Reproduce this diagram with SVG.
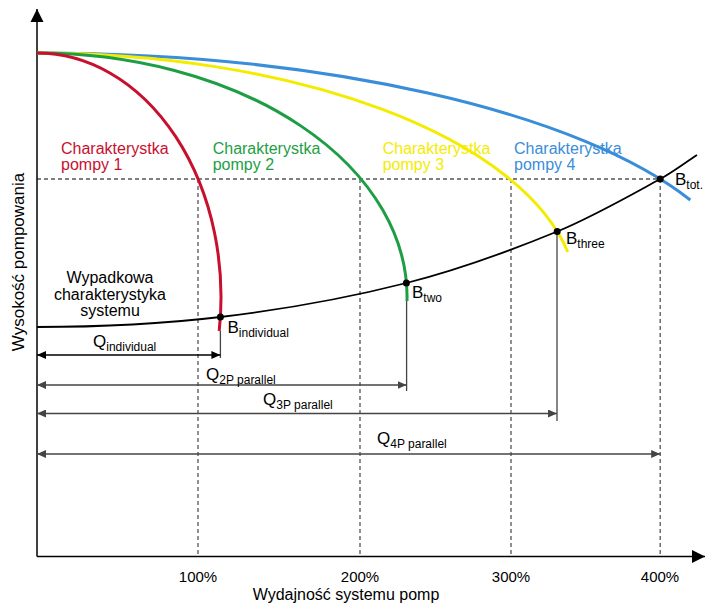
<svg xmlns="http://www.w3.org/2000/svg" width="705" height="609" viewBox="0 0 705 609">
  <defs>
    <marker id="arrow" markerUnits="userSpaceOnUse" markerWidth="10" markerHeight="8" refX="9" refY="4" orient="auto-start-reverse">
      <path d="M0,0 L9,4 L0,8 Z" fill="context-stroke"/>
    </marker>
    <marker id="axisArrow" markerUnits="userSpaceOnUse" markerWidth="14" markerHeight="14" refX="13" refY="7" orient="auto">
      <path d="M0,0.5 L13,7 L0,13.5 Z" fill="#000"/>
    </marker>
  </defs>
  <style>
    text { font-family: "Liberation Sans", Arial, sans-serif; }
    .axis { stroke: #000; stroke-width: 1.5; fill: none; }
    .grid { stroke: #000; stroke-width: 1.2; stroke-dasharray: 4 3; fill: none; }
    .vgrid { stroke: #555; stroke-width: 1.3; stroke-dasharray: 4 3; fill: none; }
    .pump { fill: none; stroke-width: 3; stroke-linecap: butt; }
    .sys { fill: none; stroke: #000; stroke-width: 1.8; }
    .drop { stroke: #444; stroke-width: 1.3; fill: none; }
    .dim { stroke: #444; stroke-width: 1.5; fill: none; marker-start: url(#arrow); marker-end: url(#arrow); }
    .lbl { font-size: 16px; }
    .pt { font-size: 17px; fill: #000; }
    .sub { font-size: 12px; }
    .tick { font-size: 15px; fill: #000; text-anchor: middle; }
    .red { stroke: #C8102E; }
    .green { stroke: #1E9E44; }
    .yellow { stroke: #F4EC00; }
    .blue { stroke: #3A8DD8; }
  </style>

  <!-- axes -->
  <g id="axes">
    <line class="axis" x1="37" y1="556.5" x2="37" y2="9" marker-end="url(#axisArrow)"/>
    <line class="axis" x1="37" y1="556.5" x2="705" y2="556.5" marker-end="url(#axisArrow)"/>
    <text class="lbl" x="346" y="600" text-anchor="middle" fill="#000">Wydajność systemu pomp</text>
    <text class="lbl" transform="translate(24,262) rotate(-90)" text-anchor="middle" fill="#000" style="font-size:17px">Wysokość pompowania</text>
    <text class="tick" x="198" y="582">100%</text>
    <text class="tick" x="360" y="582">200%</text>
    <text class="tick" x="511" y="582">300%</text>
    <text class="tick" x="660" y="582">400%</text>
  </g>

  <!-- reference lines -->
  <g id="guides">
    <line class="grid" x1="37" y1="179" x2="660" y2="179"/>
    <line class="vgrid" x1="198" y1="179" x2="198" y2="556"/>
    <line class="vgrid" x1="360" y1="179" x2="360" y2="556"/>
    <line class="vgrid" x1="511" y1="179" x2="511" y2="556"/>
    <line class="vgrid" x1="660.2" y1="179" x2="660.2" y2="556"/>
  </g>

  <!-- pump curves -->
  <g id="pump4">
    <path class="pump blue" d="M37,53 A712,244 0 0,1 690.3,200"/>
    <text class="lbl" x="514" y="154" fill="#3A8DD8">Charakterystka</text>
    <text class="lbl" x="514" y="170" fill="#3A8DD8">pompy 4</text>
  </g>
  <g id="pump3">
    <path class="pump yellow" d="M37,53 A540,244 0 0,1 567.8,252"/>
    <text class="lbl" x="382.7" y="154" fill="#F4EC00">Charakterystka</text>
    <text class="lbl" x="382.7" y="170" fill="#F4EC00">pompy 3</text>
  </g>
  <g id="pump2">
    <path class="pump green" d="M37,53 A370,244 0 0,1 407,301"/>
    <text class="lbl" x="212.7" y="154" fill="#1E9E44">Charakterystka</text>
    <text class="lbl" x="212.7" y="170" fill="#1E9E44">pompy 2</text>
  </g>
  <g id="pump1">
    <path class="pump red" d="M37,53 A184,244 0 0,1 219.2,331"/>
    <text class="lbl" x="61" y="154" fill="#C8102E">Charakterystka</text>
    <text class="lbl" x="61" y="170" fill="#C8102E">pompy 1</text>
  </g>

  <!-- system curve -->
  <g id="system">
    <path class="sys" d="M37,327 C98.13,327 159.27,324.28 220.4,317 C282.4,309.62 344.4,298.74 406.4,283 C456.67,270.24 506.93,252.1 557.2,231.5 C591.53,217.43 625.87,197.79 660.2,179 C672.47,172.29 684.73,162.97 697,155"/>
    <text class="lbl" x="110" y="283" text-anchor="middle" fill="#000">Wypadkowa</text>
    <text class="lbl" x="110" y="299.5" text-anchor="middle" fill="#000">charakterystyka</text>
    <text class="lbl" x="110" y="316" text-anchor="middle" fill="#000">systemu</text>
  </g>

  <!-- connectors: drop lines and flow dimensions -->
  <g id="connectors">
    <line class="drop" x1="220.4" y1="331" x2="220.4" y2="358"/>
    <line class="drop" x1="406.6" y1="301" x2="406.6" y2="391"/>
    <line class="drop" x1="557" y1="231.5" x2="557" y2="421"/>
    <line class="dim" x1="37" y1="355" x2="220.4" y2="355" style="stroke:#000"/>
    <line class="dim" x1="37" y1="385" x2="406.6" y2="385"/>
    <line class="dim" x1="37" y1="413.5" x2="557" y2="413.5"/>
    <line class="dim" x1="37" y1="454" x2="660.2" y2="454"/>
  </g>

  <!-- operating points -->
  <g id="B_individual">
    <circle cx="220.4" cy="317" r="3.5" fill="#000"/>
    <text class="pt" x="227.5" y="333">B<tspan class="sub" dy="4">individual</tspan></text>
  </g>
  <g id="B_two">
    <circle cx="406.4" cy="283" r="3.5" fill="#000"/>
    <text class="pt" x="412" y="298">B<tspan class="sub" dy="4">two</tspan></text>
  </g>
  <g id="B_three">
    <circle cx="557.2" cy="231.5" r="3.5" fill="#000"/>
    <text class="pt" x="566" y="243.5">B<tspan class="sub" dy="4">three</tspan></text>
  </g>
  <g id="B_tot">
    <circle cx="660.2" cy="179" r="3.5" fill="#000"/>
    <text class="pt" x="675" y="185">B<tspan class="sub" dy="4">tot.</tspan></text>
  </g>

  <!-- flow labels -->
  <g id="Q_individual">
    <text class="pt" x="93" y="346.5">Q<tspan class="sub" dy="4">individual</tspan></text>
  </g>
  <g id="Q_2P">
    <text class="pt" x="206" y="380">Q<tspan class="sub" dy="4">2P parallel</tspan></text>
  </g>
  <g id="Q_3P">
    <text class="pt" x="263" y="405">Q<tspan class="sub" dy="4">3P parallel</tspan></text>
  </g>
  <g id="Q_4P">
    <text class="pt" x="377" y="444">Q<tspan class="sub" dy="4">4P parallel</tspan></text>
  </g>
</svg>
